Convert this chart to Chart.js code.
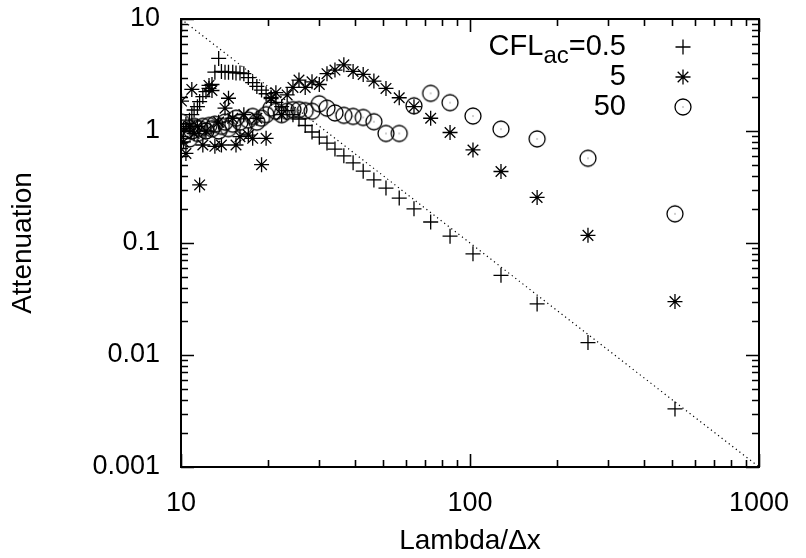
<!DOCTYPE html>
<html>
<head>
<meta charset="utf-8">
<script src="https://cdn.jsdelivr.net/npm/chart.js@4/dist/chart.umd.min.js"></script>
<style>
  body { margin: 0; background: #fff; }
  #wrap { width: 806px; height: 558px; }
</style>
</head>
<body>
<div id="wrap"><canvas id="chart1" width="806" height="558"></canvas></div>
<script>
"use strict";

// Lambda/dx for each sample
var lambdaX = [512, 256, 170.7, 128, 102.4, 85.3, 73.1, 64, 56.9, 51.2,
  46.5, 42.7, 39.4, 36.6, 34.1, 32, 30.1, 28.4, 26.9, 25.6,
  24.4, 23.3, 22.3, 21.3, 20.5, 19.7, 19.0, 18.3, 17.7, 17.1,
  16.5, 16.0, 15.5, 15.1, 14.6, 14.2, 13.8, 13.5, 13.1, 12.8,
  12.5, 12.2, 11.9, 11.6, 11.4, 11.1, 10.9, 10.7, 10.4, 10.2, 10.04];

// attenuation, CFL_ac = 0.5
var cfl05 = [0.0033, 0.0129, 0.0286, 0.0515, 0.080, 0.115, 0.154, 0.202, 0.252, 0.309,
  0.366, 0.438, 0.52, 0.60, 0.69, 0.78, 0.88, 0.98, 1.12, 1.28,
  1.40, 1.52, 1.65, 1.80, 2.0, 2.15, 2.32, 2.5, 2.7, 3.0,
  3.25, 3.3, 3.3, 3.35, 3.35, 3.35, 3.4, 4.45, 3.35, 2.6,
  2.4, 2.25, 2.03, 1.83, 1.65, 1.54, 1.4, 1.25, 1.15, 1.05, 1.0];

// attenuation, CFL_ac = 5
var cfl5 = [0.030, 0.117, 0.255, 0.435, 0.677, 0.97, 1.30, 1.65, 1.98, 2.40,
  2.79, 3.2, 3.4, 3.9, 3.5, 3.25, 2.6, 2.75, 2.45, 2.85,
  2.45, 2.1, 1.4, 2.2, 1.95, 0.86, 0.5, 1.3, 0.86, 0.92,
  1.4, 0.89, 0.75, 1.3, 1.96, 1.6, 0.75, 1.2, 0.73, 2.3,
  2.55, 1.0, 0.75, 0.33, 1.1, 0.95, 2.35, 1.1, 0.63, 0.8, 1.85];

// attenuation, CFL_ac = 50
var cfl50 = [0.182, 0.571, 0.85, 1.04, 1.36, 1.79, 2.17, 1.68, 0.95, 0.95,
  1.21, 1.32, 1.35, 1.38, 1.45, 1.6, 1.75, 1.5, 1.52, 1.55,
  1.55, 1.5, 1.4, 1.5, 1.6, 1.4, 1.3, 1.2, 1.35, 1.25,
  1.1, 1.2, 1.3, 1.15, 1.05, 1.2, 1.1, 1.0, 1.15, 1.05,
  1.12, 1.0, 1.1, 1.05, 0.95, 1.1, 1.0, 0.85, 1.0, 0.9, 1.2];

// dotted reference line
var refX = [10, 1000];
var refY = [10, 0.001];

var xTicks = [10, 100, 1000];
var xTickLabels = ['10', '100', '1000'];
var yTicks = [0.001, 0.01, 0.1, 1, 10];
var yTickLabels = ['0.001', '0.01', '0.1', '1', '10'];

var legendLabels = ['0.5', '5', '50'];

var FONT = 'Liberation Sans';
var TICKSIZE = 27;
var TITLESIZE = 28;

var pts = function (xs, ys) {
  return xs.map(function (x, i) { return {x: x, y: ys[i]}; });
};

// open circle with a dot in the middle
var circ = document.createElement('canvas');
circ.width = 20;
circ.height = 20;
(function () {
  var c = circ.getContext('2d');
  c.strokeStyle = '#000';
  c.lineWidth = 1.3;
  c.beginPath();
  c.arc(10, 10, 8, 0, Math.PI * 2);
  c.stroke();
  c.fillStyle = '#444';
  c.fillRect(9.5, 9.5, 1, 1);
})();

var pointSets = [
  {style: 'cross', radius: 7.5},
  {style: 'star', radius: 7.5},
  {style: circ, radius: 8}
];

var ticksPlugin = {
  id: 'gnuframe',
  afterDatasetsDraw: function (chart) {
    var ctx = chart.ctx, a = chart.chartArea;
    var xs = chart.scales.x, ys = chart.scales.y;
    ctx.save();
    ctx.strokeStyle = '#000';
    ctx.lineWidth = 2;
    ctx.strokeRect(a.left, a.top, a.right - a.left, a.bottom - a.top);
    ctx.lineWidth = 1.6;
    var big = 13, small = 7;
    var d, m, v, p, len;
    ctx.beginPath();
    for (d = 10; d <= 1000; d *= 10) {
      for (m = 1; m <= 9; m++) {
        v = d * m;
        if (v > 1000) break;
        p = Math.round(xs.getPixelForValue(v)) + 0.5;
        len = m === 1 ? big : small;
        ctx.moveTo(p, a.bottom); ctx.lineTo(p, a.bottom - len);
        ctx.moveTo(p, a.top); ctx.lineTo(p, a.top + len);
      }
    }
    for (d = 0.001; d <= 10.0001; d *= 10) {
      for (m = 1; m <= 9; m++) {
        v = d * m;
        if (v > 10.0001) break;
        p = Math.round(ys.getPixelForValue(v)) + 0.5;
        len = m === 1 ? big : small;
        ctx.moveTo(a.left, p); ctx.lineTo(a.left + len, p);
        ctx.moveTo(a.right, p); ctx.lineTo(a.right - len, p);
      }
    }
    ctx.stroke();
    ctx.restore();
  },
  afterDraw: function (chart) {
    var ctx = chart.ctx;
    var textRight = 626, symX = 683, rowY = [47, 77, 107];
    ctx.save();
    ctx.fillStyle = '#000';
    ctx.textBaseline = 'middle';
    ctx.textAlign = 'left';
    var big = '29px "' + FONT + '"';
    var sub = '24px "' + FONT + '"';
    // first row: CFL_ac=0.5
    ctx.font = big;
    var w1 = ctx.measureText('CFL').width;
    var w3 = ctx.measureText('=' + legendLabels[0]).width;
    ctx.font = sub;
    var w2 = ctx.measureText('ac').width;
    var x0 = textRight - w1 - w2 - w3;
    ctx.font = big;
    ctx.fillText('CFL', x0, rowY[0]);
    ctx.font = sub;
    ctx.fillText('ac', x0 + w1, rowY[0] + 9);
    ctx.font = big;
    ctx.fillText('=' + legendLabels[0], x0 + w1 + w2, rowY[0]);
    ctx.textAlign = 'right';
    ctx.fillText(legendLabels[1], textRight, rowY[1]);
    ctx.fillText(legendLabels[2], textRight, rowY[2]);
    for (var i = 0; i < 3; i++) {
      ctx.strokeStyle = '#000';
      ctx.lineWidth = 1.3;
      Chart.helpers.drawPoint(ctx, {
        pointStyle: pointSets[i].style,
        radius: pointSets[i].radius,
        borderWidth: 1.3,
        rotation: 0
      }, symX, rowY[i]);
    }
    ctx.restore();
  }
};

var scatterSet = function (data, i) {
  return {
    type: 'scatter',
    data: data,
    pointStyle: pointSets[i].style,
    pointRadius: pointSets[i].radius,
    pointHoverRadius: pointSets[i].radius,
    borderColor: '#000',
    backgroundColor: 'rgba(0,0,0,0)',
    borderWidth: 1.3,
    showLine: false
  };
};

var ctx = document.getElementById('chart1').getContext('2d');
new Chart(ctx, {
  type: 'scatter',
  data: {
    datasets: [
      scatterSet(pts(lambdaX, cfl05), 0),
      scatterSet(pts(lambdaX, cfl5), 1),
      scatterSet(pts(lambdaX, cfl50), 2),
      {
        type: 'line',
        data: pts(refX, refY),
        borderColor: '#000',
        borderWidth: 1.2,
        borderDash: [1.2, 3.3],
        pointRadius: 0,
        fill: false
      }
    ]
  },
  options: {
    responsive: false,
    animation: false,
    devicePixelRatio: 1,
    layout: {
      padding: {top: 19, right: 47, left: 0, bottom: 0}
    },
    plugins: {
      legend: {display: false},
      tooltip: {enabled: false}
    },
    scales: {
      x: {
        type: 'logarithmic',
        min: 10,
        max: 1000,
        grid: {display: false, drawTicks: false},
        border: {display: false},
        afterBuildTicks: function (s) {
          s.ticks = xTicks.map(function (v) { return {value: v}; });
        },
        afterFit: function (s) {
          s.height = 91;
          s.paddingLeft = 0;
          s.paddingRight = 0;
        },
        ticks: {
          autoSkip: false,
          maxRotation: 0,
          padding: 20,
          color: '#000',
          font: {family: FONT, size: TICKSIZE},
          callback: function (v, i) { return xTickLabels[i]; }
        },
        title: {
          display: true,
          text: 'Lambda/\u0394x',
          color: '#000',
          font: {family: FONT, size: TITLESIZE},
          padding: {top: 0, bottom: 0}
        }
      },
      y: {
        type: 'logarithmic',
        min: 0.001,
        max: 10,
        grid: {display: false, drawTicks: false},
        border: {display: false},
        afterBuildTicks: function (s) {
          s.ticks = yTicks.map(function (v) { return {value: v}; });
        },
        afterFit: function (s) {
          s.width = 181;
          s.paddingTop = 0;
          s.paddingBottom = 0;
        },
        ticks: {
          autoSkip: false,
          padding: 21,
          color: '#000',
          font: {family: FONT, size: TICKSIZE},
          callback: function (v, i) { return yTickLabels[i]; }
        },
        title: {
          display: true,
          text: 'Attenuation',
          color: '#000',
          font: {family: FONT, size: TITLESIZE},
          padding: {top: 6, bottom: 0}
        }
      }
    }
  },
  plugins: [ticksPlugin]
});
</script>
</body>
</html>
